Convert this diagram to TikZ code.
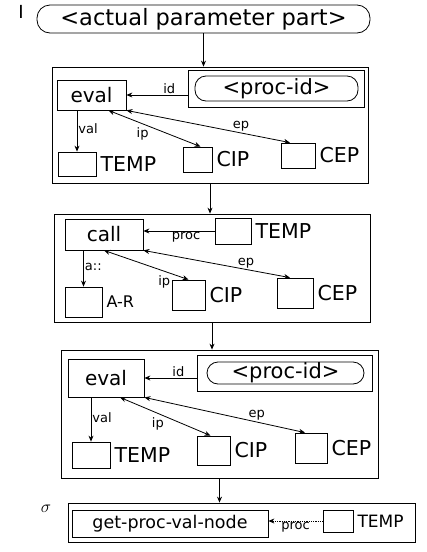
\documentclass[tikz,border=0pt]{standalone}
\usepackage{fontspec}
\setmainfont{DejaVu Sans}
\usetikzlibrary{arrows.meta}
\tikzset{
  wh/.style 2 args={minimum width=#1pt, minimum height=#2pt},
  frame/.style={draw, thick, inner sep=0pt},
  cell/.style={draw, thick, inner sep=0pt, font=\fontsize{20}{22}\selectfont},
  pill/.style={cell, rounded corners=11pt, font=\fontsize{21}{23}\selectfont},
  word/.style={anchor=west, inner sep=1pt, xshift=3pt, font=\fontsize{20.5}{22}\selectfont},
  tag/.style={inner sep=1pt, font=\fontsize{13}{14}\selectfont},
  flow/.style={thick, -{Stealth[length=6pt,width=5pt]}},
  link/.style={thick, {Stealth[length=6pt,width=5pt]}-{Stealth[length=6pt,width=5pt]}},
}
\begin{document}
\begin{tikzpicture}[x=1pt,y=-1pt]
\useasboundingbox (0,0) rectangle (427,552);
% input
\node[font=\fontsize{18}{18}\selectfont] (inI) at (21,12) {I};
\node[pill, rounded corners=13pt, wh={333}{28}, font=\fontsize{22.5}{24}\selectfont] (app) at (203.5,19) {\textless actual parameter part\textgreater};
% first step: eval
\node[frame, wh={316}{116}] (b1) at (210,125) {};
\node[cell, wh={69}{30}] (eval1) at (91.5,95) {eval};
\node[cell, wh={176}{37}] (pe1) at (276,88.5) {};
\node[pill, wh={163}{25}] (pid1) at (276.5,88.5) {\textless proc-id\textgreater};
\node[cell, wh={38}{24}] (t1) at (77,164) {};
\node[word] (t1l) at (t1.east) {TEMP};
\node[cell, wh={29}{25}] (c1) at (197.5,159.5) {};
\node[word] (c1l) at (c1.east) {CIP};
\node[cell, wh={34}{25}] (e1) at (298,155.5) {};
\node[word] (e1l) at (e1.east) {CEP};
\draw[flow] (pe1.west |- eval1) -- node[tag, above, pos=0.3] {id} (eval1.east);
\draw[flow] (eval1.south -| t1.north) -- node[tag, right, pos=0.45] {val} (t1.north);
\draw[link] ([xshift=17pt]eval1.south) -- node[tag, below left, pos=0.45] {ip} ([xshift=3pt]c1.north);
\draw[link] (eval1.south east) -- node[tag, above, pos=0.7] {ep} ([xshift=-8pt]e1.north);
\draw[flow] (app.south) -- (app.south |- b1.north);
% second step: call
\node[frame, wh={316}{108}] (b2) at (212,268) {};
\node[cell, wh={78}{31}] (call) at (104,234.5) {call};
\node[cell, wh={36}{26}] (t2) at (233,231) {};
\node[word] (t2l) at (t2.east) {TEMP};
\node[cell, wh={37}{30}] (ar) at (83.5,302) {};
\node[word, font=\fontsize{16}{18}\selectfont] (arl) at (ar.east) {A-R};
\node[cell, wh={33}{30}] (c2) at (188.5,295) {};
\node[word] (c2l) at (c2.east) {CIP};
\node[cell, wh={36}{30}] (e2) at (295,293) {};
\node[word] (e2l) at (e2.east) {CEP};
\draw[flow] (t2.west) -- node[tag, below, pos=0.4] {proc} (t2.west -| call.east);
\draw[flow] (call.south -| ar.north) -- node[tag, right, pos=0.45] {a::} (ar.north);
\draw[link] (call.south) -- node[tag, below left, pos=0.8] {ip} (c2.north);
\draw[link] (call.south east) -- node[tag, above, pos=0.7] {ep} ([xshift=-5pt]e2.north);
\draw[flow] (b1.south) -- (b1.south |- b2.north);
% third step: eval
\node[frame, wh={317}{128}] (b3) at (219.5,414) {};
\node[cell, wh={76}{38}] (eval3) at (106,378) {eval};
\node[cell, wh={175}{36}] (pe3) at (284.5,373) {};
\node[pill, wh={157}{22}] (pid3) at (285.5,373) {\textless proc-id\textgreater};
\node[cell, wh={38}{26}] (t3) at (91,455) {};
\node[word] (t3l) at (t3.east) {TEMP};
\node[cell, wh={33}{29}] (c3) at (213.5,450.5) {};
\node[word] (c3l) at (c3.east) {CIP};
\node[cell, wh={32}{30}] (e3) at (311,448) {};
\node[word] (e3l) at (e3.east) {CEP};
\draw[flow] (pe3.west |- eval3) -- node[tag, above, pos=0.35] {id} (eval3.east);
\draw[flow] (eval3.south -| t3.north) -- node[tag, right, pos=0.45] {val} (t3.north);
\draw[link] ([xshift=14pt]eval3.south) -- node[tag, below left, pos=0.5] {ip} ([xshift=-3pt]c3.north);
\draw[link] (eval3.south east) -- node[tag, above, pos=0.7] {ep} ([xshift=-6pt]e3.north);
\draw[flow] (b2.south) -- (b2.south |- b3.north);
% result
\node[font=\fontsize{18}{18}\selectfont] (outS) at (46,509) {$\sigma$};
\node[frame, wh={347}{39}] (b4) at (241.5,522.5) {};
\node[cell, wh={196}{27}, font=\fontsize{17.5}{19}\selectfont] (gp) at (170,523.5) {get-proc-val-node};
\node[cell, wh={30}{22}] (t4) at (338,521) {};
\node[word, font=\fontsize{17}{19}\selectfont] (t4l) at (t4.east) {TEMP};
\draw[flow, densely dotted] (t4.west) -- node[tag, below] {proc} (t4.west -| gp.east);
\draw[flow] (b3.south) -- (b3.south |- b4.north);
\end{tikzpicture}
\end{document}
